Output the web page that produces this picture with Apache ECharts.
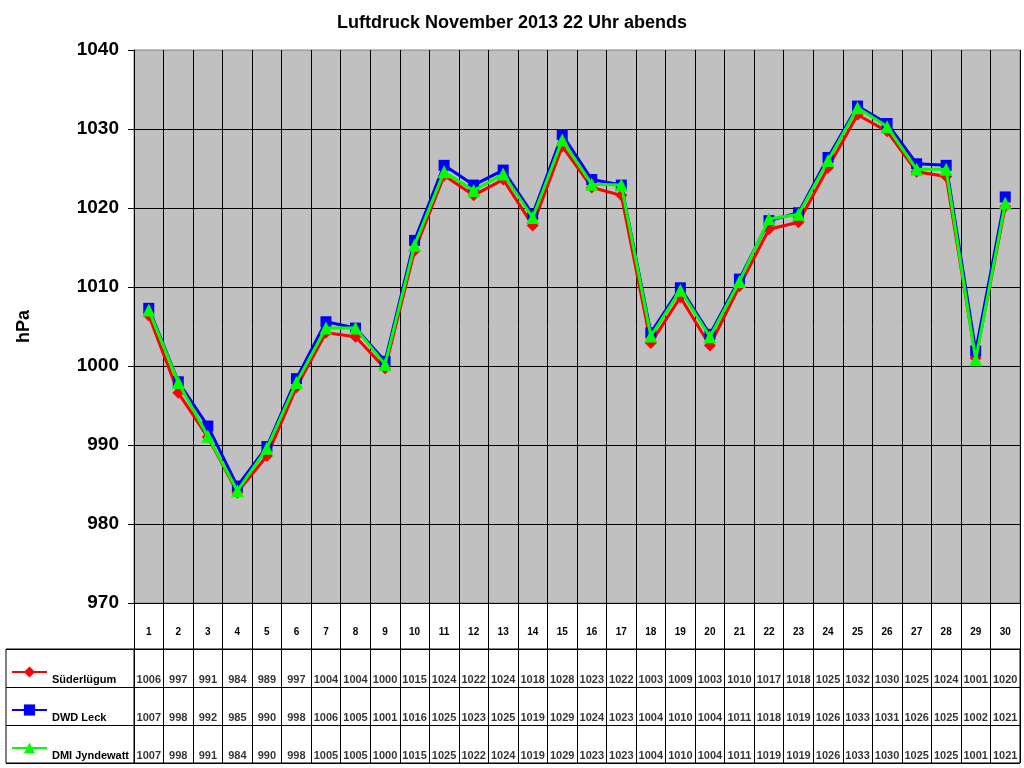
<!DOCTYPE html>
<html>
<head>
<meta charset="utf-8">
<title>Luftdruck November 2013</title>
<script src="https://cdn.jsdelivr.net/npm/echarts@6/dist/echarts.min.js"></script>
<style>
    html, body { margin: 0; padding: 0; background: #fff; }
    #chart { width: 1024px; height: 768px; }
</style>
</head>
<body>
<div id="chart"></div>
<script>
var days = ["1", "2", "3", "4", "5", "6", "7", "8", "9", "10",
    "11", "12", "13", "14", "15", "16", "17", "18", "19", "20",
    "21", "22", "23", "24", "25", "26", "27", "28", "29", "30"];

var stations = ["Süderlügum", "DWD Leck", "DMI Jyndewatt"];

var suederluegum = [1006.4, 996.6, 991.0, 984.0, 988.6, 997.3, 1004.2, 1003.7, 999.7, 1014.6,
    1024.1, 1021.6, 1023.6, 1017.8, 1027.8, 1022.6, 1021.6, 1002.9, 1008.7, 1002.6,
    1010.1, 1017.3, 1018.2, 1025.1, 1031.8, 1029.7, 1024.6, 1024.0, 1001.0, 1020.2];

var dwdLeck = [1007.3, 998.0, 992.4, 984.8, 989.8, 998.4, 1005.6, 1004.8, 1000.6, 1015.9,
    1025.4, 1022.9, 1024.8, 1019.2, 1029.3, 1023.6, 1022.9, 1004.2, 1009.9, 1004.0,
    1011.0, 1018.4, 1019.4, 1026.4, 1032.9, 1030.7, 1025.6, 1025.4, 1001.9, 1021.4];

var dmiJyndewatt = [1007.1, 997.9, 991.1, 984.2, 989.6, 997.9, 1004.8, 1004.8, 1000.2, 1015.3,
    1024.6, 1022.2, 1024.3, 1018.8, 1028.6, 1023.0, 1022.9, 1003.8, 1009.6, 1003.7,
    1010.7, 1018.6, 1019.2, 1026.0, 1032.7, 1030.3, 1024.9, 1024.9, 1000.8, 1020.6];

var seriesValues = [suederluegum, dwdLeck, dmiJyndewatt];
var seriesColors = ["#ff0000", "#0000ff", "#00ff00"];
var seriesSymbols = ["diamond", "rect", "triangle"];
var symbolSizes = [12, 11, 13];

var FONT = "'Liberation Sans', Arial, sans-serif";

var lineSeries = stations.map(function (name, idx) {
    return {
        name: name,
        type: "line",
        xAxisIndex: 0,
        yAxisIndex: 0,
        data: seriesValues[idx],
        symbol: seriesSymbols[idx],
        symbolSize: symbolSizes[idx],
        showAllSymbol: true,
        lineStyle: { color: seriesColors[idx], width: 3 },
        itemStyle: { color: seriesColors[idx] },
        z: 3 + idx
    };
});

// value table below the plot, one row per station
var tableSeries = stations.map(function (name, idx) {
    return {
        name: name + " Tabelle",
        type: "scatter",
        xAxisIndex: 1,
        yAxisIndex: 1,
        silent: true,
        symbolSize: 1,
        itemStyle: { color: "transparent" },
        data: seriesValues[idx].map(function (v, i) { return [i, idx, v]; }),
        label: {
            show: true,
            position: "inside",
            offset: [0, 12],
            color: "#000",
            fontFamily: FONT,
            fontWeight: "bold",
            fontSize: 11,
            formatter: function (p) { return String(Math.round(p.value[2])); }
        }
    };
});

var legends = stations.map(function (name, idx) {
    return {
        data: [name],
        left: 11,
        top: 656 + idx * 38,
        padding: 0,
        itemWidth: 35,
        itemHeight: 14,
        selectedMode: false,
        formatter: "\n{name}",
        textStyle: {
            color: "#000",
            fontFamily: FONT,
            fontWeight: "bold",
            fontSize: 11,
            lineHeight: 16
        }
    };
});

var chart = echarts.init(document.getElementById("chart"));
chart.setOption({
    animation: false,
    backgroundColor: "#fff",
    title: {
        text: "Luftdruck November 2013 22 Uhr abends",
        left: "center",
        top: 9,
        textStyle: { color: "#000", fontFamily: FONT, fontWeight: "bold", fontSize: 18 }
    },
    legend: legends,
    grid: [
        { left: 134, top: 50, width: 886, height: 553, show: true,
          backgroundColor: "#c0c0c0", borderColor: "#808080", borderWidth: 1 },
        { left: 134, top: 649, width: 886, height: 114, show: true,
          backgroundColor: "#fff", borderColor: "#000", borderWidth: 1 },
        { left: 6, top: 649, width: 128, height: 114, show: true,
          backgroundColor: "#fff", borderColor: "#000", borderWidth: 1 }
    ],
    xAxis: [
        {
            gridIndex: 0,
            type: "category",
            data: days,
            boundaryGap: true,
            axisLine: { show: true, lineStyle: { color: "#000", width: 1 } },
            axisTick: { show: true, interval: 0, length: 46, lineStyle: { color: "#000" } },
            axisLabel: { interval: 0, margin: 24, color: "#000", fontFamily: FONT,
                fontWeight: "bold", fontSize: 10 },
            splitLine: { show: true, interval: 0, lineStyle: { color: "#000", width: 1 } }
        },
        {
            gridIndex: 1,
            type: "category",
            data: days,
            boundaryGap: true,
            axisLine: { show: false },
            axisTick: { show: false },
            axisLabel: { show: false },
            splitLine: { show: true, interval: 0, lineStyle: { color: "#000", width: 1 } }
        },
        {
            gridIndex: 2,
            type: "value",
            show: false
        }
    ],
    yAxis: [
        {
            gridIndex: 0,
            type: "value",
            min: 970,
            max: 1040,
            interval: 10,
            name: "hPa",
            nameLocation: "middle",
            nameRotate: 90,
            nameGap: 101,
            nameTextStyle: { color: "#000", fontFamily: FONT, fontWeight: "bold", fontSize: 18 },
            axisLine: { show: true, lineStyle: { color: "#000", width: 1 } },
            axisTick: { show: true, length: 6, lineStyle: { color: "#000" } },
            axisLabel: { margin: 15, color: "#000", fontFamily: FONT, fontWeight: "bold", fontSize: 19,
                formatter: function (v) { return String(v); } },
            splitLine: { show: true, showMaxLine: false, lineStyle: { color: "#000", width: 1 } }
        },
        {
            gridIndex: 1,
            type: "category",
            data: stations,
            inverse: true,
            axisLine: { show: false },
            axisTick: { show: false },
            axisLabel: { show: false },
            splitLine: { show: true, interval: 0, lineStyle: { color: "#000", width: 1 } }
        },
        {
            gridIndex: 2,
            type: "category",
            data: stations,
            inverse: true,
            axisLine: { show: false },
            axisTick: { show: false },
            axisLabel: { show: false },
            splitLine: { show: true, interval: 0, lineStyle: { color: "#000", width: 1 } }
        }
    ],
    series: lineSeries.concat(tableSeries)
});
</script>
</body>
</html>
